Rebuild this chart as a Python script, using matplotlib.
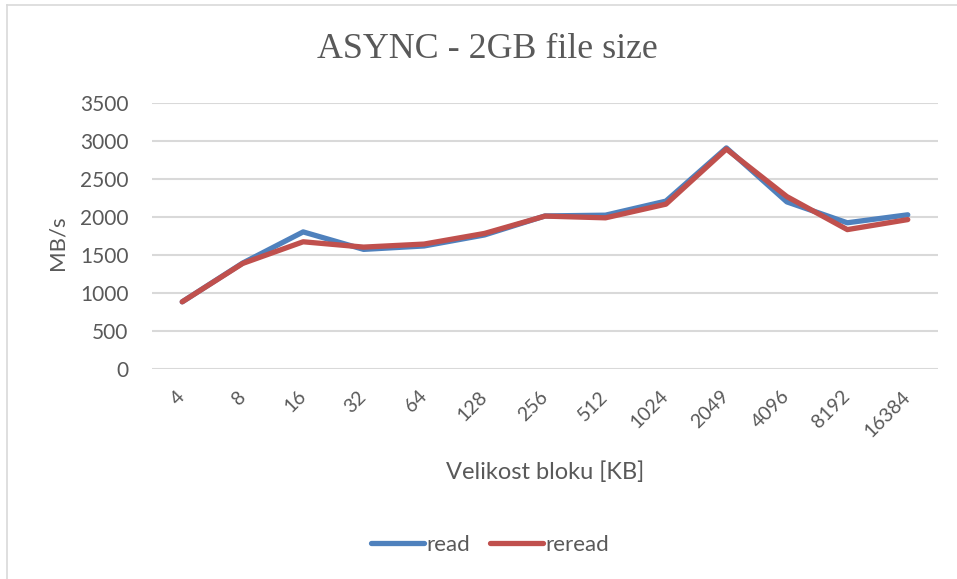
import matplotlib
matplotlib.use("Agg")
import matplotlib.pyplot as plt
from matplotlib.lines import Line2D

categories = ["4", "8", "16", "32", "64", "128", "256", "512", "1024", "2049", "4096", "8192", "16384"]
read = [880, 1390, 1800, 1570, 1615, 1760, 2010, 2020, 2205, 2905, 2195, 1920, 2025]
reread = [880, 1385, 1670, 1600, 1640, 1780, 2008, 1985, 2165, 2890, 2265, 1830, 1962]
yticks = [0, 500, 1000, 1500, 2000, 2500, 3000, 3500]

title = "ASYNC - 2GB file size"
xlabel = "Velikost bloku [KB]"
ylabel = "MB/s"

TXT = "#595959"
BLUE = "#4F81BD"
RED = "#C0504D"
GRID = "#D9D9D9"
SANS = ["Lato", "DejaVu Sans"]

W, H = 957, 579
fig = plt.figure(figsize=(W / 100, H / 100), dpi=100)
fig.patch.set_facecolor("white")

# chart border (left and top visible)
fig.add_artist(Line2D([7 / W, 7 / W], [0, 1 - 5 / H], color="#D9D9D9", lw=1.2, transform=fig.transFigure))
fig.add_artist(Line2D([7 / W, 1], [1 - 5 / H, 1 - 5 / H], color="#D9D9D9", lw=1.2, transform=fig.transFigure))

left, right = 152 / W, 938 / W
bottom, top = 1 - 368.7 / H, 1 - 102.7 / H
ax = fig.add_axes([left, bottom, right - left, top - bottom])

x = list(range(len(categories)))
ax.plot(x, read, color=BLUE, lw=3.8, solid_capstyle="round", solid_joinstyle="round", label="read", zorder=3)
ax.plot(x, reread, color=RED, lw=3.8, solid_capstyle="round", solid_joinstyle="round", label="reread", zorder=4)

ax.set_xlim(-0.5, len(categories) - 0.5)
ax.set_ylim(0, 3500)
ax.set_yticks(yticks)
ax.set_yticklabels([str(v) for v in yticks], family=SANS, fontsize=15, color=TXT)
ax.set_xticks(x)
ax.set_xticklabels(categories, family=SANS, fontsize=14, color=TXT, rotation=45,
                   ha="right", va="center", rotation_mode="anchor")
ax.tick_params(axis="y", length=0, pad=17)
ax.tick_params(axis="x", length=0, pad=18)
ax.grid(axis="y", color=GRID, lw=1.5)
ax.set_axisbelow(True)
for s in ax.spines.values():
    s.set_visible(False)

fig.text(487 / W, 1 - 49 / H, title, family=["Liberation Serif"], fontsize=25.8, color=TXT,
         ha="center", va="center")
fig.text(545 / W, 1 - 472 / H, xlabel, family=SANS, fontsize=17, color=TXT, ha="center", va="center")
fig.text(58 / W, 1 - 243 / H, ylabel, family=SANS, fontsize=16, color=TXT, ha="center", va="center",
         rotation=90)

leg = fig.legend(loc="center", bbox_to_anchor=(490 / W, 1 - 545 / H), ncol=2, frameon=False,
                 prop={"family": SANS, "size": 16}, handlelength=2.4, handletextpad=0.1,
                 columnspacing=0.9)
for t in leg.get_texts():
    t.set_color(TXT)

fig.savefig("out.png", dpi=100, facecolor="white")
